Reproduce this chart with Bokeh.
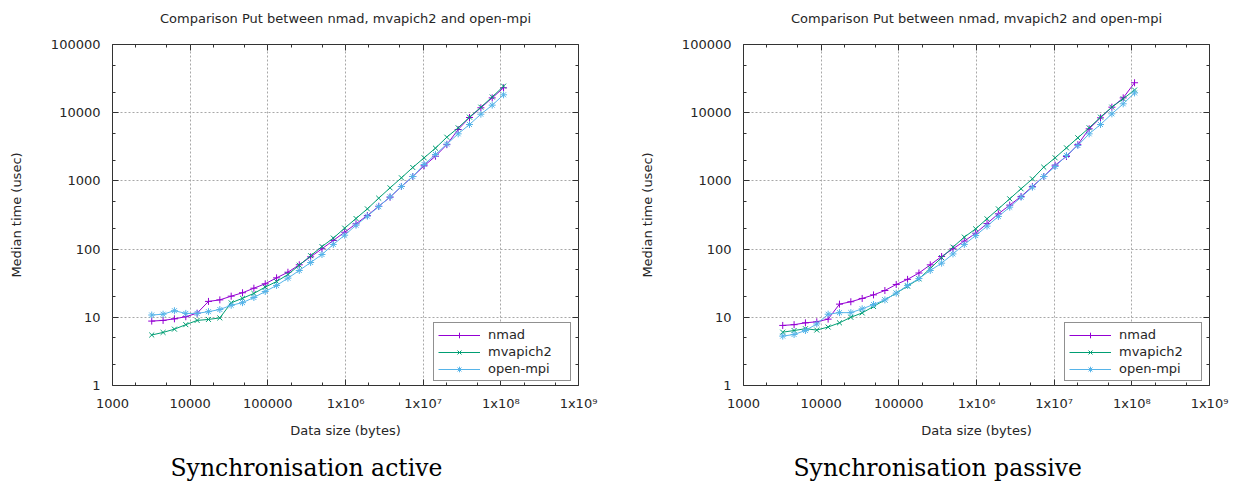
from bokeh.plotting import figure
from bokeh.models import (Range1d, LogAxis, FixedTicker, Title, Legend, LegendItem,
                          CustomJSTickFormatter)
from bokeh.layouts import row
from bokeh.embed import file_html
from bokeh.resources import INLINE

# ---------------- data ----------------
data_size = [3200, 4480, 6272, 8781, 12293, 17210, 24095, 33732, 47225, 66116,
             92562, 129586, 181421, 253989, 355585, 497819, 696947, 975726,
             1366016, 1912422, 2677391, 3748347, 5247686, 7346760, 10285464,
             14399650, 20159510, 28223314, 39512640, 55317696, 77444774, 108422684]

active_nmad = [8.8, 9.0, 9.5, 10.2, 11.5, 17.1, 18.0, 20.4, 22.9, 26.7, 31.0, 37.9,
               45.8, 58.9, 77, 101, 134, 177, 235, 311, 425, 577, 828, 1160, 1665,
               2300, 3400, 5670, 8500, 11800, 16500, 23200]
active_mvapich2 = [5.5, 6.0, 6.7, 7.8, 9.0, 9.3, 9.8, 16.3, 19.0, 22.4, 27.7, 33.5,
                   42.4, 58, 80, 109, 145, 203, 281, 389, 558, 791, 1110, 1573, 2180,
                   3020, 4375, 6000, 8600, 12050, 17000, 24500]
active_openmpi = [10.8, 11.1, 12.5, 11.4, 11.4, 12.1, 13.0, 15.0, 16.4, 19.5, 23.9,
                  29.3, 37.5, 48.6, 63.6, 83.3, 117, 160, 224, 304, 421, 584, 828,
                  1160, 1740, 2440, 3460, 4900, 6710, 9500, 12900, 18300]

passive_nmad = [7.6, 7.8, 8.3, 8.6, 9.4, 15.6, 16.9, 18.9, 21.3, 24.7, 30.3, 36.0,
                44.6, 58.8, 77.9, 101, 131, 171, 237, 329, 441, 591, 828, 1160, 1700,
                2280, 3400, 5800, 8410, 12050, 16500, 27500]
passive_mvapich2 = [6.05, 6.4, 6.8, 6.5, 7.2, 8.3, 10.0, 11.6, 14.4, 18.0, 22.6, 28.6,
                    36.6, 52, 75, 107, 150, 198, 278, 389, 546, 766, 1072, 1590, 2180,
                    3055, 4285, 6000, 8600, 12050, 16000, 21500]
passive_openmpi = [5.3, 5.6, 6.4, 8.0, 11.1, 11.7, 11.7, 13.3, 15.4, 18.0, 22.6, 29.3,
                   37.0, 48.6, 62.2, 85, 117, 158, 217, 301, 412, 577, 809, 1160, 1626,
                   2356, 3304, 4900, 6710, 9620, 13500, 19500]

series_names = ["nmad", "mvapich2", "open-mpi"]
series_colors = ["#9400d3", "#009e73", "#56b4e9"]
series_markers = ["cross", "x", "asterisk"]

x_ticks = [1e3, 1e4, 1e5, 1e6, 1e7, 1e8, 1e9]
x_tick_labels = ["1000", "10000", "100000", "1x10\u2076", "1x10\u2077", "1x10\u2078", "1x10\u2079"]
y_ticks = [1, 10, 100, 1000, 10000, 100000]
y_tick_labels = ["1", "10", "100", "1000", "10000", "100000"]

chart_title = "Comparison Put between nmad, mvapich2 and open-mpi"
x_label = "Data size (bytes)"
y_label = "Median time (usec)"
captions = ["Synchronisation active", "Synchronisation passive"]

# ---------------- styling ----------------
SANS = "DejaVu Sans"
SERIF = "DejaVu Serif"
TXT = "#262626"
FS = "13px"

x_minor = [t * m for t in x_ticks[:-1] for m in (2, 5)]
y_minor = [t * m for t in y_ticks[:-1] for m in (2, 5)]

JS = """
const i = tick_values.findIndex(t => Math.abs(Math.log10(t) - Math.log10(tick)) < 1e-6);
return i >= 0 ? tick_labels[i] : "";
"""


def style_axis(ax, ticks, labels, minor, show):
    ax.ticker = FixedTicker(ticks=ticks, minor_ticks=minor)
    if show:
        ax.formatter = CustomJSTickFormatter(args=dict(tick_values=ticks, tick_labels=labels), code=JS)
        ax.major_label_text_font_size = FS
    else:
        ax.formatter = CustomJSTickFormatter(code="return '';")
        ax.major_label_text_font_size = "0px"
        ax.major_label_standoff = 0
    ax.major_tick_in = 6
    ax.major_tick_out = 0
    ax.minor_tick_in = 3
    ax.minor_tick_out = 0
    ax.axis_line_color = None
    ax.major_tick_line_color = "#333333"
    ax.minor_tick_line_color = "#333333"
    ax.major_label_text_font = SANS
    ax.major_label_text_color = TXT
    ax.axis_label_text_font = SANS
    ax.axis_label_text_font_size = FS
    ax.axis_label_text_font_style = "normal"
    ax.axis_label_text_color = TXT


def spacer_axis(size):
    ax = LogAxis()
    style_axis(ax, x_ticks, x_tick_labels, x_minor, False)
    ax.major_tick_in = 0
    ax.minor_tick_in = 0
    ax.major_tick_out = size
    ax.major_tick_line_color = None
    ax.minor_tick_line_color = None
    return ax


def make_chart(caption, values, border_left, border_right, caption_offset):
    p = figure(width=618, height=484, x_axis_type="log", y_axis_type="log",
               x_range=Range1d(x_ticks[0], x_ticks[-1]),
               y_range=Range1d(y_ticks[0], y_ticks[-1]),
               output_backend="svg", toolbar_location=None, title=None,
               min_border_left=border_left, min_border_right=border_right,
               min_border_top=44, min_border_bottom=99)
    p.background_fill_color = "white"
    p.border_fill_color = "white"
    p.outline_line_color = "#333333"
    p.outline_line_width = 1

    xa = p.xaxis[0]
    ya = p.yaxis[0]
    style_axis(xa, x_ticks, x_tick_labels, x_minor, True)
    style_axis(ya, y_ticks, y_tick_labels, y_minor, True)
    xa.axis_label = x_label
    ya.axis_label = y_label
    xa.major_label_standoff = 10
    xa.axis_label_standoff = 9
    ya.major_label_standoff = 12
    ya.axis_label_standoff = 24

    # mirrored tick marks on top / right (no labels)
    top = LogAxis()
    style_axis(top, x_ticks, x_tick_labels, x_minor, False)
    p.add_layout(top, "above")
    right = LogAxis()
    style_axis(right, y_ticks, y_tick_labels, y_minor, False)
    p.add_layout(right, "right")

    # invisible spacers that position the title and the caption
    p.add_layout(spacer_axis(11), "above")
    p.add_layout(spacer_axis(10), "below")

    for g in (p.xgrid[0], p.ygrid[0]):
        g.grid_line_color = "#a8a8a8"
        g.grid_line_dash = "2 2"
        g.grid_line_width = 1
    p.xgrid[0].ticker = FixedTicker(ticks=x_ticks)
    p.ygrid[0].ticker = FixedTicker(ticks=y_ticks)

    items = []
    for name, col, mk, ys in zip(series_names, series_colors, series_markers, values):
        ln = p.line(data_size, ys, line_color=col, line_width=1)
        sc = p.scatter(data_size, ys, marker=mk, size=7, line_color=col, line_width=1)
        items.append(LegendItem(label=name, renderers=[ln, sc]))

    legend = Legend(items=items, location=(321, 4), border_line_color="#222222",
                    border_line_width=1, background_fill_color="white",
                    background_fill_alpha=1.0, padding=4, spacing=2, margin=0,
                    glyph_width=42, glyph_height=14, label_height=14, label_width=78,
                    label_standoff=8, label_text_font=SANS, label_text_font_size=FS,
                    label_text_color=TXT)
    p.add_layout(legend)

    t = Title(text=chart_title, align="center", standoff=16,
              text_font=SANS, text_font_size=FS, text_font_style="normal", text_color=TXT)
    p.add_layout(t, "above")

    c = Title(text=caption, align="left", offset=caption_offset, standoff=2,
              text_font=SERIF, text_font_size="23.5px", text_font_style="normal",
              text_color="#000000")
    p.add_layout(c, "below")
    return p


p1 = make_chart(captions[0], [active_nmad, active_mvapich2, active_openmpi], 112, 40, 58)
p2 = make_chart(captions[1], [passive_nmad, passive_mvapich2, passive_openmpi], 125, 27, 50)

p = row(p1, p2)
open("out.html", "w").write(file_html(p, INLINE))
